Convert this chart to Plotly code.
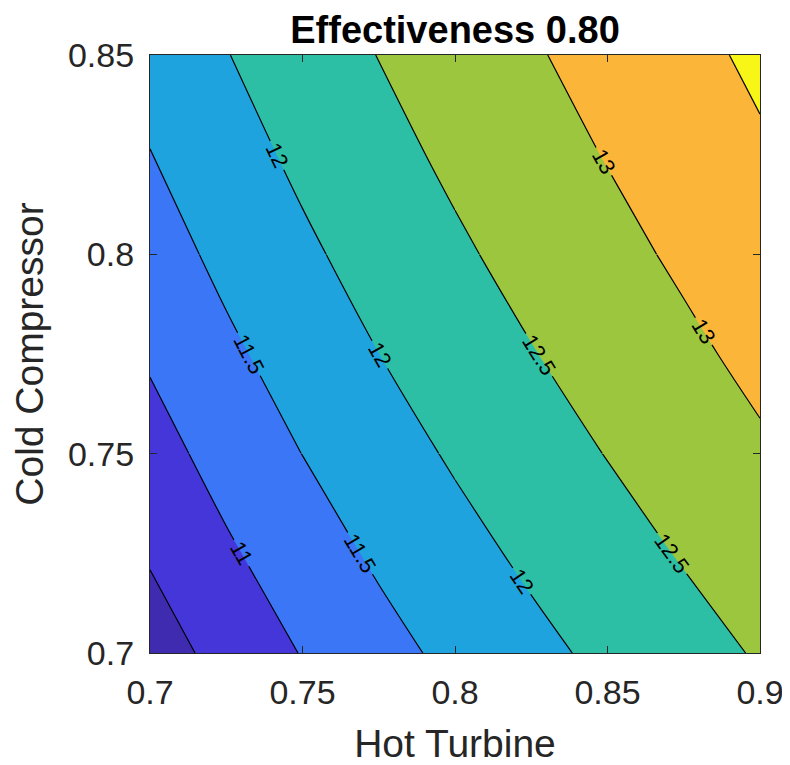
import plotly.graph_objects as go

# Hot Turbine efficiency (x) and Cold Compressor efficiency (y)
hot_turbine = [0.700, 0.725, 0.750, 0.775, 0.800, 0.825, 0.850, 0.875, 0.900]
cold_compressor = [0.700, 0.725, 0.750, 0.775, 0.800, 0.825, 0.850]

# values (rows: cold compressor, cols: hot turbine)
row_070 = [10.262, 10.665, 11.021, 11.337, 11.619, 11.874, 12.108, 12.328, 12.540]
row_0725 = [10.547, 10.932, 11.272, 11.574, 11.845, 12.091, 12.319, 12.534, 12.744]
row_075 = [10.812, 11.180, 11.505, 11.795, 12.055, 12.293, 12.515, 12.727, 12.936]
row_0775 = [11.057, 11.408, 11.720, 11.998, 12.249, 12.480, 12.697, 12.907, 13.116]
row_080 = [11.283, 11.619, 11.917, 12.185, 12.428, 12.653, 12.866, 13.074, 13.284]
row_0825 = [11.489, 11.811, 12.097, 12.355, 12.591, 12.811, 13.021, 13.229, 13.441]
row_085 = [11.676, 11.985, 12.260, 12.510, 12.739, 12.955, 13.163, 13.372, 13.586]
z_values = [row_070, row_0725, row_075, row_0775, row_080, row_0825, row_085]

x_ticks = [0.7, 0.75, 0.8, 0.85, 0.9]
x_tick_text = ["0.7", "0.75", "0.8", "0.85", "0.9"]
y_ticks = [0.7, 0.75, 0.8, 0.85]
y_tick_text = ["0.7", "0.75", "0.8", "0.85"]

band_colors = ["#3F2BB0", "#4536DA", "#3A76F5", "#1FA3DF",
               "#2DBFA5", "#9BC63E", "#FBB63A", "#F8F616"]
colorscale = [[i / (len(band_colors) - 1), c] for i, c in enumerate(band_colors)]

FONT = "Liberation Sans, Arial, sans-serif"
levels = dict(start=10.5, end=13.5, size=0.5)

fig = go.Figure()
# filled bands
fig.add_trace(go.Contour(
    x=hot_turbine, y=cold_compressor, z=z_values,
    colorscale=colorscale, zmin=10.25, zmax=13.75, showscale=False,
    contours=dict(coloring="fill", showlabels=False, **levels),
    line=dict(width=0, smoothing=1), hoverinfo="skip", showlegend=False,
))
# labelled contour lines, drawn per block of the same grid so each line
# carries several inline labels (as in the MATLAB clabel output)
row_blocks = [(0, 3), (2, 5), (4, 7)]
col_blocks = [(0, 5), (4, 9)]
for r0, r1 in row_blocks:
    for c0, c1 in col_blocks:
        fig.add_trace(go.Contour(
            x=hot_turbine[c0:c1], y=cold_compressor[r0:r1],
            z=[row[c0:c1] for row in z_values[r0:r1]],
            showscale=False, showlegend=False,
            contours=dict(coloring="none", showlabels=True,
                          labelfont=dict(family=FONT, size=22, color="black"),
                          **levels),
            line=dict(color="black", width=1.2, smoothing=1),
            hoverinfo="skip",
        ))

axis_common = dict(
    showline=True, linecolor="#262626", linewidth=1.2, mirror="ticks",
    ticks="inside", ticklen=7, tickwidth=1, tickcolor="#262626",
    showgrid=False, zeroline=False, automargin=False,
    tickfont=dict(family=FONT, size=34, color="#262626"),
    title_font=dict(family=FONT, size=39, color="#262626"),
)

fig.update_xaxes(range=[0.7, 0.9], tickvals=x_ticks, ticktext=x_tick_text,
                 title_text="Hot Turbine", title_standoff=26,
                 ticklabelstandoff=9, **axis_common)
fig.update_yaxes(range=[0.7, 0.85], tickvals=y_ticks, ticktext=y_tick_text,
                 title_text="Cold Compressor", title_standoff=14,
                 ticklabelstandoff=8, **axis_common)

# page body adds an 8px margin, so the figure is sized to fill the window
fig.update_layout(
    width=782, height=757,
    margin=dict(l=142, r=30, t=47, b=112),
    plot_bgcolor="white", paper_bgcolor="white",
    showlegend=False,
    title=dict(text="<b>Effectiveness 0.80</b>", x=0.5, xref="paper",
               xanchor="center", y=1 - 22 / 757, yanchor="middle",
               font=dict(family=FONT, size=38, color="black")),
)

fig.write_html("out.html")
